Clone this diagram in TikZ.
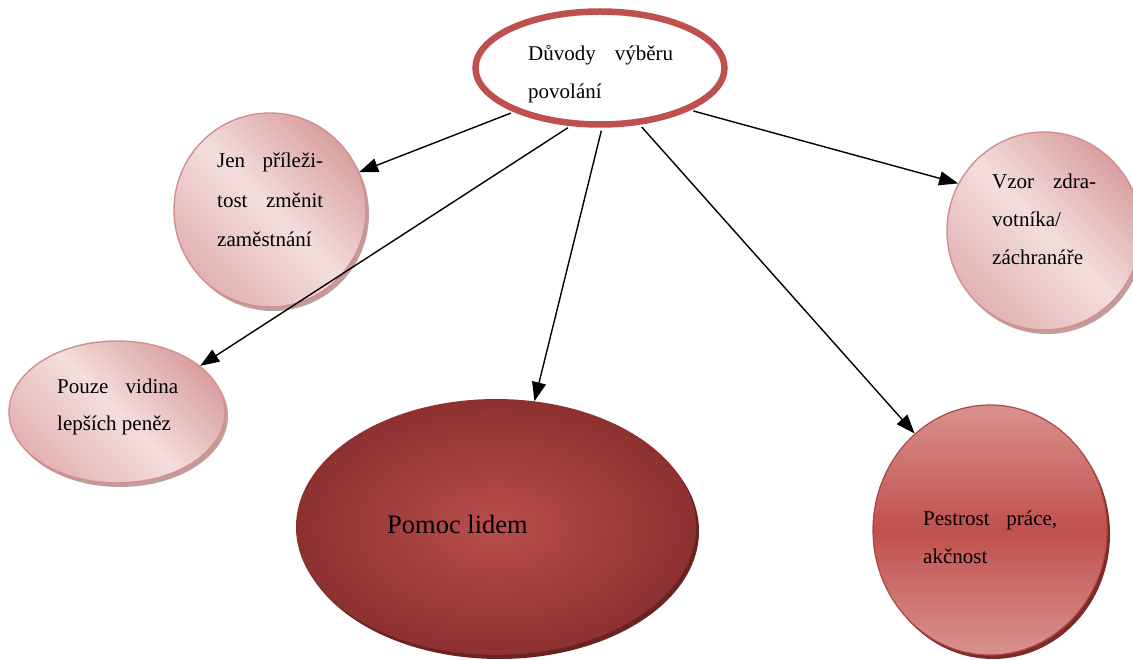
\documentclass[tikz,border=0pt]{standalone}
\usepackage{fontspec}
\setmainfont{Liberation Serif}
\usetikzlibrary{arrows.meta,shapes.geometric,shadows}

\definecolor{accent}{HTML}{C0504D}
\definecolor{pinkLight}{HTML}{F3DEDD}
\definecolor{pinkDark}{HTML}{D9A0A0}
\definecolor{pinkMid}{HTML}{E2B3B2}
\definecolor{pinkEdge}{HTML}{D48E8C}
\definecolor{pinkShadow}{HTML}{C29C9B}
\definecolor{pomocIn}{HTML}{BA4E4C}
\definecolor{pomocOut}{HTML}{8C3130}
\definecolor{pomocShadow}{HTML}{6A2322}
\definecolor{pestTop}{HTML}{D9928F}
\definecolor{pestShadow}{HTML}{7C2B29}

\tikzset{
  pinkbubble/.style={ellipse, inner sep=0pt, draw=pinkEdge, line width=1.4pt,
    top color=pinkDark, bottom color=pinkMid, middle color=pinkLight, shading angle=-45,
    drop shadow={shadow xshift=3pt, shadow yshift=-4pt, fill=pinkShadow, opacity=1}},
  label/.style={anchor=base west, inner sep=0pt, font=\fontsize{21}{38}\selectfont},
  link/.style={-{Triangle[length=19pt,width=14pt]}, line width=1.4pt, black, shorten <=3pt},
}

\begin{document}
\begin{tikzpicture}[x=1pt,y=-1pt]
\useasboundingbox (0,0) rectangle (1133,660);

% central topic
\node[ellipse, inner sep=0pt, minimum width=249pt, minimum height=113pt,
      draw=accent, line width=6.5pt, fill=white] (top) at (600,68) {};

% reasons
\node[pinkbubble, minimum width=192pt, minimum height=194pt] (jen) at (270,210) {};
\node[pinkbubble, minimum width=216pt, minimum height=142pt] (pouze) at (117,412) {};
\node[pinkbubble, minimum width=194pt, minimum height=198pt] (vzor) at (1044,231) {};
\node[ellipse, inner sep=0pt, minimum width=400pt, minimum height=256pt,
      inner color=pomocIn, outer color=pomocOut,
      drop shadow={shadow xshift=3pt, shadow yshift=-4pt, fill=pomocShadow, opacity=1}]
      (pomoc) at (496,527) {};
\node[ellipse, inner sep=0pt, minimum width=234pt, minimum height=250pt,
      draw=accent!90!black, line width=1.2pt,
      top color=pestTop, bottom color=pestTop, middle color=accent,
      drop shadow={shadow xshift=3pt, shadow yshift=-4pt, fill=pestShadow, opacity=1}]
      (pest) at (990,530) {};

% texts
\node[label] (topText) at (528,61)
  {\vtop{\baselineskip=38pt\hbox to 145pt{Důvody\hfill výběru}\hbox{povolání}}};
\node[label] (jenText) at (217,168)
  {\vtop{\baselineskip=39.5pt\hbox to 106pt{Jen\hfill příleži-}\hbox to 106pt{tost\hfill změnit}\hbox{zaměstnání}}};
\node[label] (pouzeText) at (57,393)
  {\vtop{\baselineskip=37.5pt\hbox to 121pt{Pouze\hfill vidina}\hbox{lepších peněz}}};
\node[label] (vzorText) at (992,189)
  {\vtop{\baselineskip=38pt\hbox to 104pt{Vzor\hfill zdra-}\hbox{votníka/}\hbox{záchranáře}}};
\node[label] (pestText) at (923,525)
  {\vtop{\baselineskip=38pt\hbox to 134pt{Pestrost\hfill práce,}\hbox{akčnost}}};
\node[label, font=\fontsize{26.5}{32}\selectfont] (pomocText) at (387,533) {Pomoc lidem};

% connectors
\draw[link] (top.207) -- (jen.23.6);
\draw[link] (top.243) -- (pouze.29.7);
\draw[link] (top.272) -- (pomoc.73.6);
\draw[link] (top.-55) -- (pest.128.7);
\draw[link] (top.-25) -- (vzor.151.9);
\end{tikzpicture}
\end{document}
